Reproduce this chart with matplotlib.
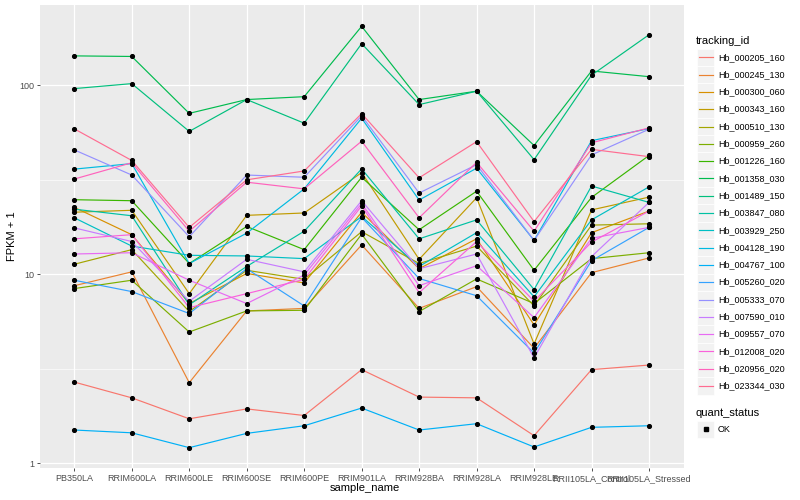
import numpy as np
import matplotlib.pyplot as plt
from matplotlib.patches import Rectangle
from matplotlib.lines import Line2D
from matplotlib.ticker import NullFormatter

plt.rcParams['font.family'] = ['Liberation Sans', 'DejaVu Sans']

# samples on the x axis
samples = ['PB350LA', 'RRIM600LA', 'RRIM600LE', 'RRIM600SE', 'RRIM600PE',
           'RRIM901LA', 'RRIM928BA', 'RRIM928LA', 'RRIM928LE',
           'RRII105LA_Control', 'RRII105LA_Stressed']

tracking_ids = ['Hb_000205_160', 'Hb_000245_130', 'Hb_000300_060', 'Hb_000343_160',
                'Hb_000510_130', 'Hb_000959_260', 'Hb_001226_160', 'Hb_001358_030',
                'Hb_001489_150', 'Hb_003847_080', 'Hb_003929_250', 'Hb_004128_190',
                'Hb_004767_100', 'Hb_005260_020', 'Hb_005333_070', 'Hb_007590_010',
                'Hb_009557_070', 'Hb_012008_020', 'Hb_020956_020', 'Hb_023344_030']

# ggplot hue palette for 20 levels
colors = ['#F8766D', '#EA8331', '#D89000', '#C09B00', '#A3A500', '#7CAE00',
          '#39B600', '#00BB4E', '#00BF7D', '#00C1A3', '#00BFC4', '#00BAE0',
          '#00B0F6', '#35A2FF', '#9590FF', '#C77CFF', '#E76BF3', '#FA62DB',
          '#FF62BC', '#FF6C91']

# FPKM + 1 per gene, one value per sample
hb_000205_160 = [2.69, 2.22, 1.72, 1.94, 1.79, 3.13, 2.24, 2.22, 1.40, 3.13, 3.31]
hb_000245_130 = [8.7, 10.3, 2.67, 6.4, 6.6, 14.3, 6.6, 8.6, 4.06, 10.2, 12.2]
hb_000300_060 = [22.6, 16.2, 7.0, 10.1, 9.0, 21.3, 10.7, 15.4, 5.4, 16.6, 21.6]
hb_000343_160 = [21.3, 21.8, 7.9, 20.5, 21.1, 34.5, 12.0, 25.4, 4.28, 21.9, 25.6]
hb_000510_130 = [11.3, 13.5, 6.35, 10.5, 9.4, 16.8, 11.4, 14.1, 6.8, 18.2, 18.5]
hb_000959_260 = [8.4, 9.3, 4.95, 6.4, 6.45, 16.3, 6.35, 9.45, 7.0, 12.1, 13.0]
hb_001226_160 = [24.8, 24.5, 11.4, 17.9, 13.5, 32.6, 17.2, 27.5, 10.5, 25.5, 42.5]
hb_001358_030 = [143, 142, 71, 84, 87, 205, 84, 93, 48, 119, 111]
hb_001489_150 = [96, 102, 57, 84, 63, 166, 79, 93, 40.4, 113, 185]
hb_003847_080 = [22.1, 20.4, 6.9, 11.0, 16.9, 36.1, 15.4, 19.4, 8.3, 29.3, 24.0]
hb_003929_250 = [19.9, 14.1, 12.6, 12.5, 12.1, 20.2, 11.0, 16.6, 7.6, 19.4, 29.0]
hb_004128_190 = [36, 38.5, 11.4, 16.5, 28.3, 66.9, 24.7, 36.4, 15.1, 50.9, 59.0]
hb_004767_100 = [1.50, 1.45, 1.21, 1.44, 1.58, 1.96, 1.50, 1.62, 1.22, 1.55, 1.58]
hb_005260_020 = [9.3, 8.1, 6.2, 10.7, 6.8, 20.0, 9.5, 7.7, 3.83, 11.8, 17.7]
hb_005333_070 = [45.5, 33.5, 15.8, 33.5, 32.6, 68.9, 26.9, 38.0, 15.1, 42.8, 58.5]
hb_007590_010 = [17.6, 14.9, 7.2, 12.0, 10.3, 24.5, 10.7, 12.8, 3.61, 12.4, 24.0]
hb_009557_070 = [12.8, 13.0, 9.3, 7.0, 9.9, 23.7, 8.7, 11.1, 5.9, 15.5, 17.7]
hb_012008_020 = [15.4, 16.2, 6.66, 7.9, 9.4, 23.0, 8.0, 14.9, 7.2, 14.8, 21.6]
hb_020956_020 = [31.9, 38.9, 16.9, 30.7, 28.3, 50.6, 19.9, 39.1, 16.9, 49.6, 59.5]
hb_023344_030 = [58.8, 40.0, 17.7, 31.6, 35.2, 70.8, 32.4, 50.3, 19.0, 45.8, 41.9]

series = [hb_000205_160, hb_000245_130, hb_000300_060, hb_000343_160,
          hb_000510_130, hb_000959_260, hb_001226_160, hb_001358_030,
          hb_001489_150, hb_003847_080, hb_003929_250, hb_004128_190,
          hb_004767_100, hb_005260_020, hb_005333_070, hb_007590_010,
          hb_009557_070, hb_012008_020, hb_020956_020, hb_023344_030]

W, H = 800, 500


def fx(px):
    return px / W


def fy(py):
    return 1 - py / H


fig = plt.figure(figsize=(W / 100, H / 100), dpi=100)
fig.patch.set_facecolor('white')

# panel
ax = fig.add_axes([fx(39.8), fy(468.3), 643.7 / W, 463.0 / H])
ax.set_facecolor('#EBEBEB')
for s in ax.spines.values():
    s.set_visible(False)

x = np.arange(len(samples))
for vals, col in zip(series, colors):
    ax.plot(x, vals, color=col, lw=0.85, zorder=3, solid_capstyle='butt')
for vals in series:
    ax.plot(x, vals, ls='none', marker='o', ms=2.7, color='black', zorder=4)

ax.set_yscale('log')
ax.set_ylim(0.941, 264.8)
ax.set_xlim(-0.6, len(samples) - 0.4)

ax.set_yticks([1, 10, 100])
ax.set_yticklabels(['1', '10', '100'])
ax.set_yticks([10 ** 0.5, 10 ** 1.5], minor=True)
ax.yaxis.set_minor_formatter(NullFormatter())
ax.set_xticks(x)
ax.set_xticklabels(samples)
ax.xaxis.set_minor_locator(plt.NullLocator())

ax.set_axisbelow(True)
ax.grid(which='major', color='white', lw=0.9)
ax.grid(which='minor', axis='y', color='white', lw=0.45)
ax.tick_params(which='major', length=2.2, width=0.6, color='#333333',
               labelcolor='#4D4D4D', labelsize=6.5, pad=1.8)
ax.tick_params(which='minor', length=0)

fig.text(fx(364.5), fy(488), 'sample_name', ha='center', va='center', fontsize=8)
fig.text(fx(12), fy(236.5), 'FPKM + 1', ha='center', va='center', rotation=90,
         fontsize=8)

# legend: tracking_id
key = 17.3
kx = 697.0
fig.text(fx(kx - 1), fy(40.5), 'tracking_id', ha='left', va='center', fontsize=8)
for i, (tid, col) in enumerate(zip(tracking_ids, colors)):
    cy = 57.3 + i * key
    fig.patches.append(Rectangle((fx(kx), fy(cy + key / 2)), key / W, key / H,
                                 transform=fig.transFigure, facecolor='#F2F2F2',
                                 edgecolor='white', lw=0.5))
    fig.lines.append(Line2D([fx(kx + 1.5), fx(kx + key - 1.5)], [fy(cy), fy(cy)],
                            transform=fig.transFigure, color=col, lw=0.85))
    fig.text(fx(kx + key + 3.5), fy(cy), tid, ha='left', va='center', fontsize=6.5)

# legend: quant_status
fig.text(fx(kx - 1), fy(412.7), 'quant_status', ha='left', va='center', fontsize=8)
cy = 429.3
fig.patches.append(Rectangle((fx(kx), fy(cy + key / 2)), key / W, key / H,
                             transform=fig.transFigure, facecolor='#F2F2F2',
                             edgecolor='white', lw=0.5))
fig.lines.append(Line2D([fx(kx + key / 2)], [fy(cy)], transform=fig.transFigure,
                        ls='none', marker='s', ms=2.5, color='black'))
fig.text(fx(kx + key + 3.5), fy(cy), 'OK', ha='left', va='center', fontsize=6.5)

fig.savefig('out.png', dpi=100, facecolor='white')
